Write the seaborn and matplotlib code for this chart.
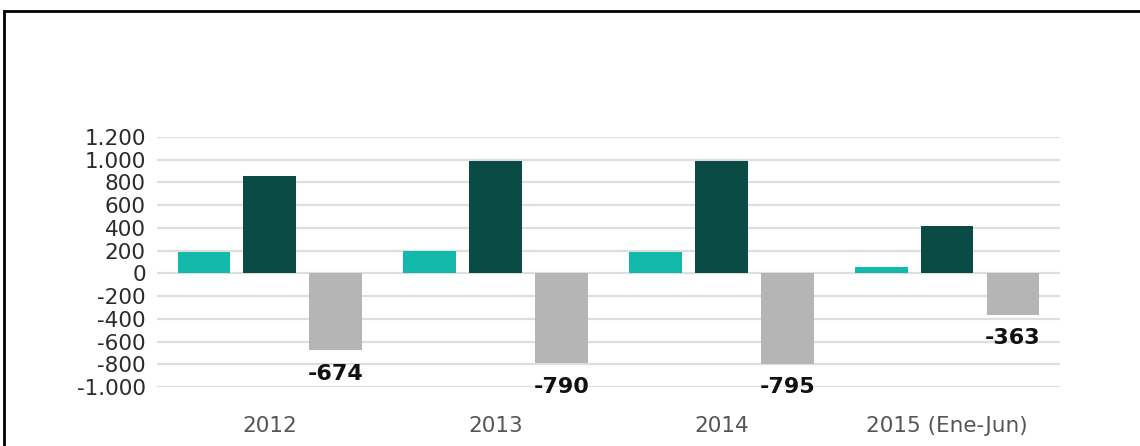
import matplotlib
matplotlib.use("Agg")
import matplotlib.pyplot as plt
import matplotlib.patches as mpatches
from matplotlib.ticker import FuncFormatter
import seaborn as sns
import pandas as pd

# data
years = ["2012", "2013", "2014", "2015 (Ene-Jun)"]
series = ["Exportaciones", "Importaciones", "Balanza"]
exports = [186, 195, 190, 57]
imports = [860, 985, 985, 420]
balance = [-674, -790, -795, -363]
yticks = [-1000, -800, -600, -400, -200, 0, 200, 400, 600, 800, 1000, 1200]
colors = ["#13b9ab", "#0a4c45", "#b4b5b4"]

df = pd.DataFrame({
    "year": years * 3,
    "serie": [s for s in series for _ in years],
    "value": exports + imports + balance,
})

sns.set_style("white")
plt.rcParams["font.family"] = ["DejaVu Sans"]

fig = plt.figure(figsize=(11.4, 4.46), dpi=100)
ax = fig.add_axes([0.1377, 0.1323, 0.7921, 0.5605])

sns.barplot(data=df, x="year", y="value", hue="serie", order=years,
            hue_order=series, palette=colors, width=0.876, gap=0.2,
            saturation=1, linewidth=0, legend=False, ax=ax)

ax.set_ylim(-1000, 1200)
ax.set_xlim(-0.5, 3.5)
ax.set_yticks(yticks)
ax.yaxis.set_major_formatter(FuncFormatter(lambda v, p: f"{int(v):,}".replace(",", ".")))
ax.grid(axis="y", color="#dedede", linewidth=1.6)
ax.set_axisbelow(True)
for s in ax.spines.values():
    s.set_visible(False)
ax.tick_params(axis="y", length=0, pad=8, labelsize=15.5, labelcolor="#2b2b2b")
ax.tick_params(axis="x", length=0, pad=21, labelsize=15.5, labelcolor="#555555")
ax.set_xlabel("")
ax.set_ylabel("")

# labels under the balance bars
bal_bars = ax.containers[2]
for bar, v in zip(bal_bars, balance):
    ax.annotate(f"{v}", (bar.get_x() + bar.get_width() / 2, v),
                xytext=(0, -17), textcoords="offset points",
                ha="center", va="center", fontsize=16,
                fontweight="bold", color="#111111")

# frame around the figure
fig.patches.append(mpatches.Rectangle((4 / 1140, -0.05), 1.1, 1 - 11 / 446 + 0.05,
                                      transform=fig.transFigure, fill=False,
                                      edgecolor="black", linewidth=2))

fig.savefig("out.png", dpi=100)
